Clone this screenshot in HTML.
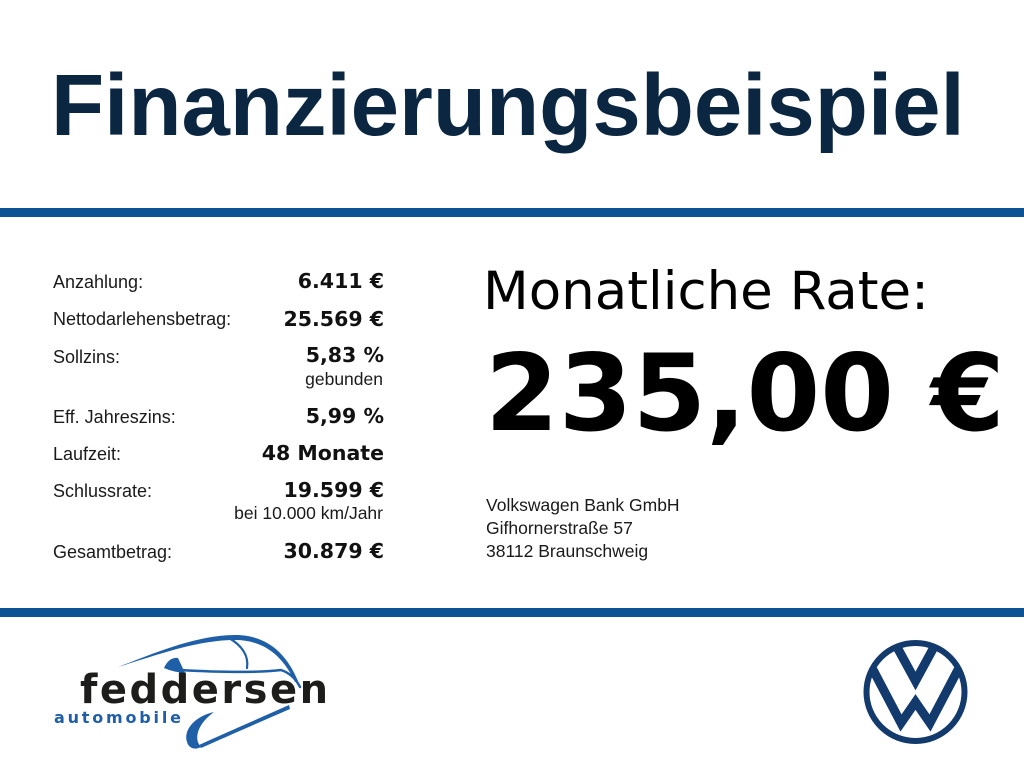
<!DOCTYPE html>
<html>
<head>
<meta charset="utf-8">
<style>
  html,body{margin:0;padding:0;background:#fff;}
  body{width:1024px;height:768px;position:relative;overflow:hidden;}
  .t{position:absolute;white-space:nowrap;line-height:1;}
  .title{font-family:"Liberation Sans",sans-serif;font-weight:bold;font-size:87px;color:#0b2640;left:51px;top:62px;}
  .bar{position:absolute;left:0;width:1024px;height:9px;background:#0d5294;}
  .lbl{font-family:"Liberation Sans",sans-serif;font-size:18px;color:#1a1a1a;left:53px;}
  .val{font-family:"DejaVu Sans",sans-serif;font-weight:bold;font-size:20.5px;color:#111;right:640px;text-align:right;}
  .sub{font-family:"Liberation Sans",sans-serif;font-size:17.5px;color:#1a1a1a;right:641px;text-align:right;}
  .rate{font-family:"DejaVu Sans",sans-serif;font-size:53px;color:#000;left:483px;top:265px;}
  .big{font-family:"DejaVu Sans",sans-serif;font-weight:bold;font-size:106px;color:#000;left:485px;top:341px;}
  .addr{font-family:"Liberation Sans",sans-serif;font-size:17.5px;color:#1a1a1a;left:486px;}
  .fed{font-family:"DejaVu Sans",sans-serif;font-weight:bold;font-size:40px;letter-spacing:2.5px;color:#1d1d1b;left:80px;top:670px;}
  .auto{font-family:"DejaVu Sans",sans-serif;font-weight:bold;font-size:16px;letter-spacing:2.8px;color:#1f5fa8;left:54px;top:709.5px;}
</style>
</head>
<body>
  <div class="t title">Finanzierungsbeispiel</div>
  <div class="bar" style="top:208px;"></div>
  <div class="bar" style="top:608px;"></div>

  <div class="t lbl" style="top:273px;">Anzahlung:</div>
  <div class="t lbl" style="top:310px;">Nettodarlehensbetrag:</div>
  <div class="t lbl" style="top:348px;">Sollzins:</div>
  <div class="t lbl" style="top:408px;">Eff. Jahreszins:</div>
  <div class="t lbl" style="top:445px;">Laufzeit:</div>
  <div class="t lbl" style="top:482px;">Schlussrate:</div>
  <div class="t lbl" style="top:543px;">Gesamtbetrag:</div>

  <div class="t val" style="top:271px;">6.411 €</div>
  <div class="t val" style="top:308.5px;">25.569 €</div>
  <div class="t val" style="top:345px;">5,83 %</div>
  <div class="t sub" style="top:371px;">gebunden</div>
  <div class="t val" style="top:406px;">5,99 %</div>
  <div class="t val" style="top:443px;">48 Monate</div>
  <div class="t val" style="top:480px;">19.599 €</div>
  <div class="t sub" style="top:505px;">bei 10.000 km/Jahr</div>
  <div class="t val" style="top:541px;">30.879 €</div>

  <div class="t rate">Monatliche Rate:</div>
  <div class="t big">235,00 €</div>

  <div class="t addr" style="top:497px;">Volkswagen Bank GmbH</div>
  <div class="t addr" style="top:519.5px;">Gifhornerstraße 57</div>
  <div class="t addr" style="top:542.5px;">38112 Braunschweig</div>

  <svg width="1024" height="768" style="position:absolute;left:0;top:0;" xmlns="http://www.w3.org/2000/svg">
    <g fill="#1f5fa8" stroke="none">
      <path d="M118,667 C150,655 195,635 235,635 C264,635 285,650 298,681 L295,682 C282,654 262,640 235,640 C198,640 160,654 118,667 Z"/>
      <path d="M164,668 Q169,657 178,658 L185,673 Q173,672 164,668 Z"/>
      <path d="M214,712 C195,716 183,730 187,742 C189,749 196,750 201,747 C194,740 196,725 214,712 Z"/>
      <path d="M199,745 C225,733 258,719 289,705 L290,709 C260,722 228,736 201,748 Z"/>
    </g>
    <g fill="none" stroke="#1f5fa8" stroke-linecap="round">
      <path d="M180,670 C215,672 255,673 281,670 C290,673 296,679 300,687" stroke-width="2.5"/>
      <path d="M229,638 C241,645 249,655 247,668" stroke-width="2.2"/>
    </g>

    <defs>
      <clipPath id="vwc"><circle cx="915.5" cy="692" r="47"/></clipPath>
    </defs>
    <circle cx="915.5" cy="692" r="49" fill="none" stroke="#123a6c" stroke-width="6"/>
    <g clip-path="url(#vwc)" fill="none" stroke="#123a6c" stroke-width="9" stroke-linejoin="miter" stroke-miterlimit="10">
      <polyline points="887.7,630 915.5,681 943.3,630"/>
      <polyline points="860,645 901,723 915.5,702 930,723 971,645"/>
    </g>
  </svg>

  <div class="t fed">feddersen</div>
  <div class="t auto">automobile</div>
</body>
</html>
